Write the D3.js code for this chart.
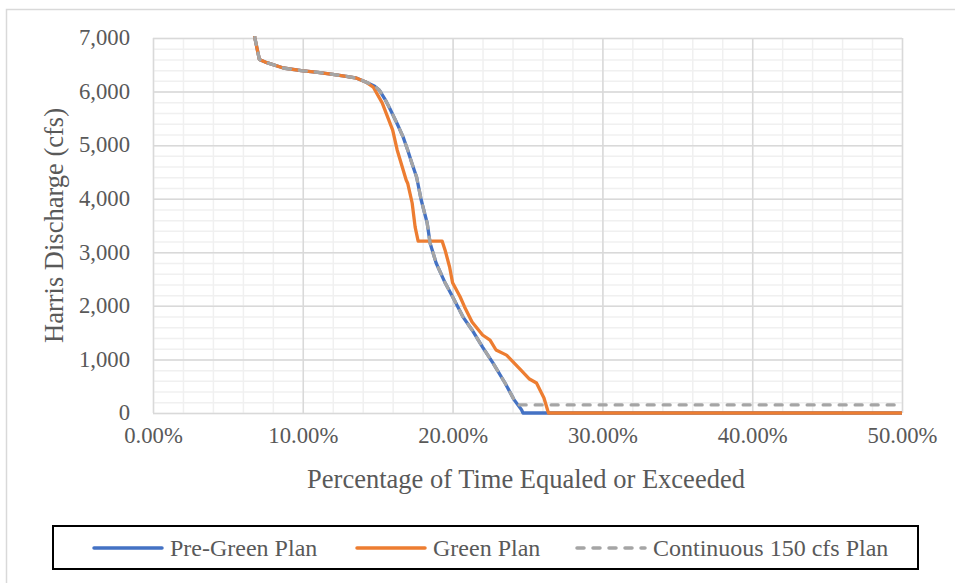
<!DOCTYPE html>
<html>
<head>
<meta charset="utf-8">
<script src="https://cdn.jsdelivr.net/npm/d3@7"></script>
<style>
  body { margin: 0; background: #fff; }
  svg { display: block; font-family: "Liberation Serif", "Times New Roman", serif; }
  .tick text { fill: #595959; font-size: 22.7px; font-family: "Liberation Serif", "Times New Roman", serif; }
  .domain { display: none; }
</style>
</head>
<body>
<svg width="955" height="583"></svg>
<script>
// percentage of time (fraction) and discharge (cfs)
const preGreenX = [0.065, 0.068, 0.071, 0.076, 0.087, 0.099, 0.110, 0.120, 0.130, 0.136, 0.142, 0.148, 0.151, 0.155, 0.158, 0.163, 0.167, 0.170, 0.173, 0.176, 0.179, 0.183, 0.185, 0.189, 0.195, 0.200, 0.207, 0.213, 0.220, 0.227, 0.235, 0.241, 0.246, 0.247, 0.500];
const preGreenY = [7600, 7000, 6600, 6540, 6440, 6390, 6360, 6320, 6280, 6250, 6180, 6100, 6030, 5850, 5690, 5400, 5150, 4910, 4650, 4400, 3980, 3550, 3170, 2800, 2430, 2170, 1790, 1550, 1230, 930, 560, 250, 60, 0, 0];

const greenX = [0.065, 0.068, 0.071, 0.076, 0.087, 0.099, 0.110, 0.120, 0.130, 0.136, 0.142, 0.147, 0.153, 0.160, 0.163, 0.169, 0.170, 0.173, 0.175, 0.177, 0.193, 0.195, 0.198, 0.200, 0.205, 0.208, 0.213, 0.220, 0.225, 0.229, 0.236, 0.245, 0.251, 0.256, 0.261, 0.264, 0.500];
const greenY = [7600, 7000, 6600, 6540, 6440, 6390, 6360, 6320, 6280, 6250, 6180, 6085, 5790, 5280, 4910, 4350, 4290, 3920, 3470, 3210, 3210, 3040, 2725, 2430, 2170, 1980, 1700, 1456, 1360, 1176, 1080, 820, 640, 560, 280, 0, 0];

const continuousX = [0.065, 0.068, 0.071, 0.076, 0.087, 0.099, 0.110, 0.120, 0.130, 0.136, 0.142, 0.148, 0.151, 0.155, 0.158, 0.163, 0.167, 0.170, 0.173, 0.176, 0.179, 0.183, 0.185, 0.189, 0.195, 0.200, 0.207, 0.213, 0.220, 0.227, 0.235, 0.241, 0.244, 0.500];
const continuousY = [7600, 7000, 6600, 6540, 6440, 6390, 6360, 6320, 6280, 6250, 6180, 6100, 6030, 5850, 5690, 5400, 5150, 4910, 4650, 4400, 3980, 3550, 3170, 2800, 2430, 2170, 1790, 1550, 1230, 930, 560, 250, 150, 150];

const seriesNames = ["Pre-Green Plan", "Green Plan", "Continuous 150 cfs Plan"];
const xTicks = [0, 0.1, 0.2, 0.3, 0.4, 0.5];
const yTicks = [0, 1000, 2000, 3000, 4000, 5000, 6000, 7000];

const svg = d3.select("svg");
const plotL = 153, plotR = 902, plotT = 38, plotB = 413;

const x = d3.scaleLinear().domain([0, 0.5]).range([plotL, plotR]);
const y = d3.scaleLinear().domain([0, 7000]).range([plotB, plotT]);

// outer chart border (runs off the right / bottom edges)
svg.append("rect")
  .attr("x", 6.5).attr("y", 9.5)
  .attr("width", 1000).attr("height", 1000)
  .attr("fill", "none").attr("stroke", "#d9d9d9").attr("stroke-width", 1.5);

// minor gridlines
const minorX = d3.range(0, 0.5001, 0.02);
const minorY = d3.range(0, 7001, 200);
svg.append("g")
  .attr("transform", `translate(0,${plotB})`)
  .call(d3.axisBottom(x).tickValues(minorX).tickSize(-(plotB - plotT)).tickFormat(""))
  .call(g => g.selectAll("line").attr("stroke", "#f0f0f0").attr("stroke-width", 1.5));
svg.append("g")
  .attr("transform", `translate(${plotL},0)`)
  .call(d3.axisLeft(y).tickValues(minorY).tickSize(-(plotR - plotL)).tickFormat(""))
  .call(g => g.selectAll("line").attr("stroke", "#f0f0f0").attr("stroke-width", 1.5));

// major gridlines + labels
svg.append("g")
  .attr("transform", `translate(0,${plotB})`)
  .call(d3.axisBottom(x).tickValues(xTicks).tickSize(-(plotB - plotT)).tickPadding(0).tickFormat(d3.format(".2%")))
  .call(g => g.selectAll("line").attr("stroke", "#d9d9d9").attr("stroke-width", 1.5))
  .call(g => g.selectAll("text").attr("y", 30).attr("dy", 0));
svg.append("g")
  .attr("transform", `translate(${plotL},0)`)
  .call(d3.axisLeft(y).tickValues(yTicks).tickSize(-(plotR - plotL)).tickFormat(d3.format(",")))
  .call(g => g.selectAll("line").attr("stroke", "#d9d9d9").attr("stroke-width", 1.5))
  .call(g => g.selectAll("text").attr("x", -23).attr("dy", "0.3em"));

// axis titles
svg.append("text")
  .attr("x", 526).attr("y", 488)
  .attr("text-anchor", "middle").attr("fill", "#595959").attr("font-size", 26.5)
  .text("Percentage of Time Equaled or Exceeded");
svg.append("text")
  .attr("transform", `translate(63,${(plotT + plotB) / 2}) rotate(-90)`)
  .attr("text-anchor", "middle").attr("fill", "#595959").attr("font-size", 26.5)
  .text("Harris Discharge (cfs)");

// lines
svg.append("clipPath").attr("id", "plot")
  .append("rect").attr("x", plotL).attr("y", plotT - 2).attr("width", plotR - plotL + 2).attr("height", plotB - plotT + 4);

const line = d3.line().x(d => x(d[0])).y(d => y(d[1]));
const zip = (xs, ys) => xs.map((v, i) => [v, ys[i]]);

const series = [
  { name: seriesNames[0], data: zip(preGreenX, preGreenY), color: "#4472c4", dash: null },
  { name: seriesNames[1], data: zip(greenX, greenY), color: "#ed7d31", dash: null },
  { name: seriesNames[2], data: zip(continuousX, continuousY), color: "#a5a5a5", dash: "7,9" }
];

const lines = svg.append("g").attr("clip-path", "url(#plot)");
series.forEach(s => {
  lines.append("path")
    .datum(s.data)
    .attr("d", line)
    .attr("fill", "none")
    .attr("stroke", s.color)
    .attr("stroke-width", 3.3)
    .attr("stroke-linejoin", "round")
    .attr("stroke-linecap", s.dash ? "round" : "butt")
    .attr("stroke-dasharray", s.dash);
});

// legend
const legend = svg.append("g");
legend.append("rect")
  .attr("x", 53).attr("y", 526).attr("width", 865).attr("height", 43)
  .attr("fill", "#fff").attr("stroke", "#000").attr("stroke-width", 2);
const legendX = [94, 357, 577];
series.forEach((s, i) => {
  const g = legend.append("g").attr("transform", `translate(${legendX[i]},548)`);
  g.append("line")
    .attr("x1", 0).attr("x2", 68).attr("y1", 0).attr("y2", 0)
    .attr("stroke", s.color).attr("stroke-width", 3.5)
    .attr("stroke-linecap", "round")
    .attr("stroke-dasharray", s.dash);
  g.append("text")
    .attr("x", 76).attr("y", 7.5)
    .attr("fill", "#595959").attr("font-size", 24)
    .text(s.name);
});
</script>
</body>
</html>
